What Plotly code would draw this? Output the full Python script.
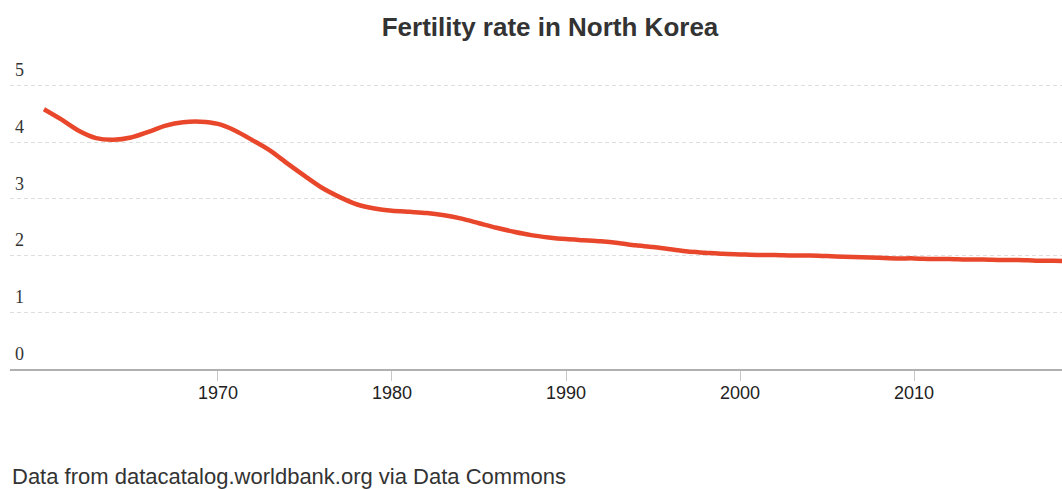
import plotly.graph_objects as go

# Total fertility rate (births per woman), North Korea
years = list(range(1960, 2020))
fertility = [
    4.58, 4.40, 4.20, 4.07, 4.04, 4.08, 4.18, 4.29, 4.35, 4.36,
    4.32, 4.20, 4.03, 3.85, 3.62, 3.40, 3.19, 3.03, 2.90, 2.83,
    2.79, 2.77, 2.75, 2.71, 2.65, 2.57, 2.49, 2.42, 2.36, 2.32,
    2.29, 2.27, 2.25, 2.22, 2.18, 2.15, 2.11, 2.07, 2.05, 2.03,
    2.02, 2.01, 2.01, 2.00, 2.00, 1.99, 1.98, 1.97, 1.96, 1.95,
    1.95, 1.94, 1.94, 1.93, 1.93, 1.92, 1.92, 1.91, 1.91, 1.90,
]

x_ticks = [1970, 1980, 1990, 2000, 2010]
y_ticks = [0, 1, 2, 3, 4, 5]

title_text = "Fertility rate in North Korea"
source_text = "Data from datacatalog.worldbank.org via Data Commons"

fig = go.Figure()
fig.add_trace(go.Scatter(
    x=years,
    y=fertility,
    mode="lines",
    line=dict(color="#e9472c", width=4.5, shape="spline", smoothing=0.8),
    hoverinfo="x+y",
    showlegend=False,
))

fig.update_layout(
    width=1062,
    height=489,
    margin=dict(l=10, r=0, t=57, b=120),
    paper_bgcolor="white",
    plot_bgcolor="white",
    title=dict(
        text=f"<b>{title_text}</b>",
        x=550 / 1062,
        xref="container",
        xanchor="center",
        y=1 - 27 / 489,
        yref="container",
        yanchor="middle",
        font=dict(family="Liberation Sans, Arial, sans-serif", size=26, color="#333333"),
    ),
    xaxis=dict(
        range=[1958.05, 2018.5],
        tickvals=x_ticks,
        ticktext=[str(v) for v in x_ticks],
        showgrid=False,
        zeroline=False,
        showline=True,
        linecolor="#b0b0b0",
        linewidth=2,
        ticks="outside",
        ticklen=10,
        tickwidth=1,
        tickcolor="#c8c8c8",
        ticklabelstandoff=-4,
        tickfont=dict(family="Liberation Sans, Arial, sans-serif", size=18, color="#222222"),
        fixedrange=True,
    ),
    yaxis=dict(
        range=[0, 5.5],
        tickvals=y_ticks,
        ticktext=[str(v) for v in y_ticks],
        ticklabelposition="inside top",
        ticklabelstandoff=2,
        ticklabelshift=-3,
        showgrid=True,
        gridcolor="#dddddd",
        griddash="4px,3px",
        gridwidth=1,
        zeroline=False,
        showline=False,
        ticks="",
        tickfont=dict(family="Liberation Serif, Times New Roman, serif", size=18, color="#333333"),
        fixedrange=True,
    ),
    annotations=[
        dict(
            text=source_text,
            xref="paper",
            yref="paper",
            x=0,
            y=-(476 - 369) / 312,
            xanchor="left",
            yanchor="middle",
            showarrow=False,
            font=dict(family="Liberation Sans, Arial, sans-serif", size=22, color="#333333"),
        )
    ],
)

fig.write_html("out.html", config={"displayModeBar": False})
